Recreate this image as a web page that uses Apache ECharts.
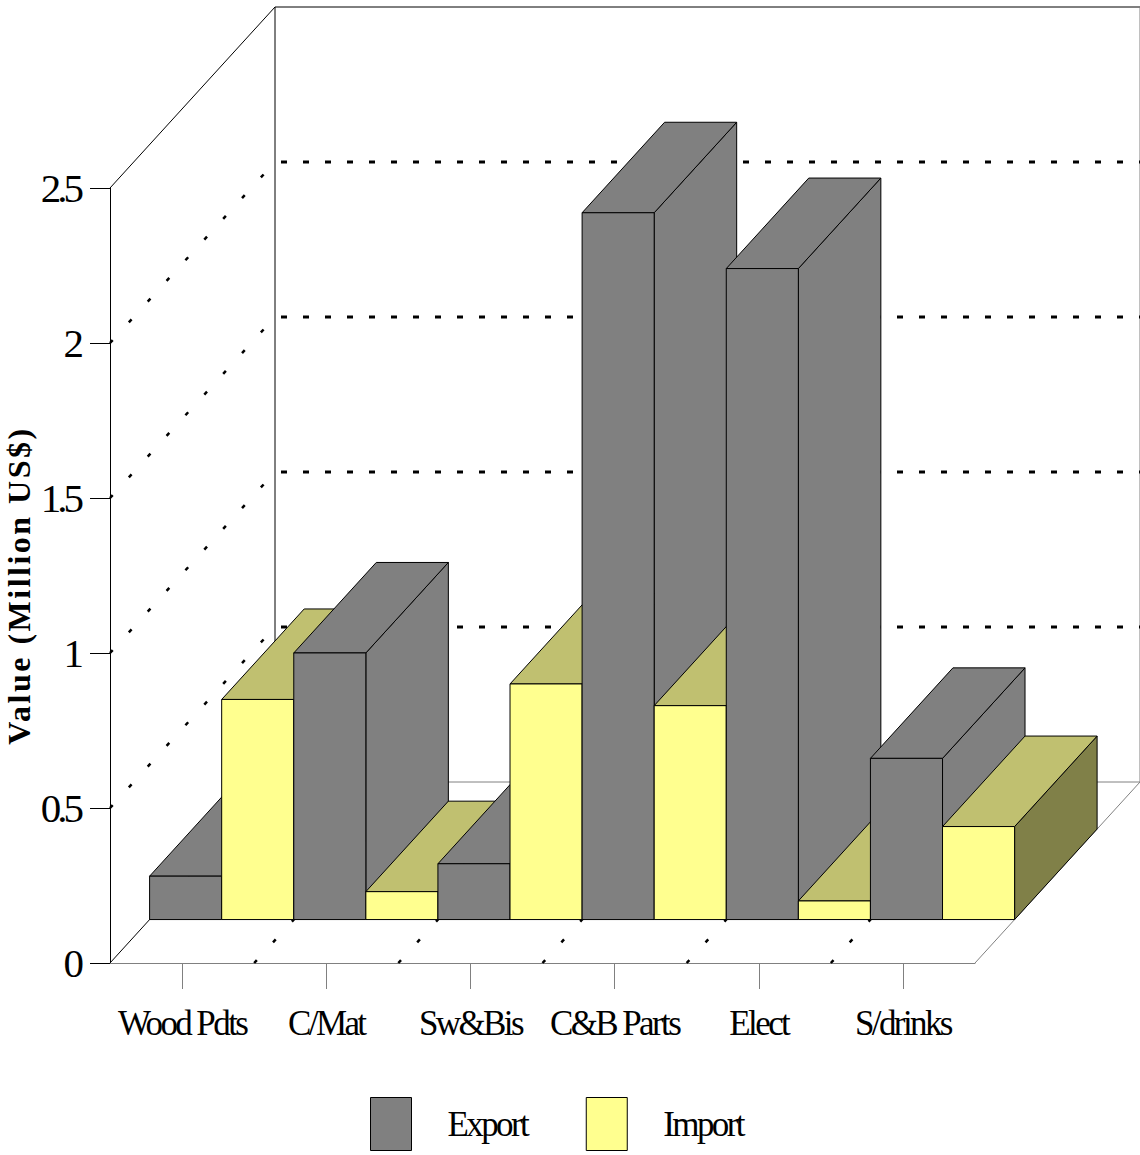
<!DOCTYPE html>
<html>
<head>
<meta charset="utf-8">
<title>Export and Import Value</title>
<script src="https://cdn.jsdelivr.net/npm/echarts@6/dist/echarts.min.js"></script>
<style>
  html, body { margin: 0; padding: 0; background: #fff; }
  #chart { width: 1140px; height: 1155px; }
  /* tight, typeset-looking serif labels */
  #chart text { letter-spacing: -2.6px; }
  #chart text[style*="41px"] { letter-spacing: -4px; }
  #chart text[style*="bold"] { letter-spacing: 2.5px; }
</style>
</head>
<body>
<div id="chart"></div>
<script>
// ---- data ----
const categories = ['Wood Pdts', 'C/Mat', 'Sw&Bis', 'C&B Parts', 'Elect', 'S/drinks'];
const exportValues = [0.14, 0.86, 0.18, 2.28, 2.10, 0.52];
const importValues = [0.71, 0.09, 0.76, 0.69, 0.06, 0.30];
const valueTicks = [0, 0.5, 1, 1.5, 2, 2.5];
const seriesNames = ['Export', 'Import'];

// ---- 3D look: oblique depth offset of the box, in pixels ----
const DEPTH_X = 165;
const DEPTH_Y = -181;
const BAR_FRONT = 0.24;   // bar front face, fraction of box depth
const BAR_BACK = 0.74;    // bar back face

const SERIF = '"Liberation Serif", "Times New Roman", serif';

const faceColors = [
  { front: '#808080', top: '#808080', side: '#808080' },
  { front: '#ffff8f', top: '#c0c070', side: '#808048' }
];

function shift(p, d) {
  return [p[0] + d * DEPTH_X, p[1] + d * DEPTH_Y];
}

function seg(p, q, color, dash, width) {
  return {
    type: 'line',
    shape: { x1: p[0], y1: p[1], x2: q[0], y2: q[1] },
    style: { stroke: color, lineWidth: width || 1, lineDash: dash || null, lineCap: 'butt' },
    silent: true
  };
}

// walls, floor and their dotted grid
function renderFrame(params, api) {
  const cs = params.coordSys;
  const x0 = cs.x;
  const x1 = cs.x + cs.width;
  const bw = api.size([1, 0])[0];
  const yBase = api.coord([0, valueTicks[0]])[1];
  const yTop = api.coord([0, valueTicks[valueTicks.length - 1]])[1];
  const kids = [];
  const hDash = [6, 16];
  const dDash = [4, 24];

  // floor
  kids.push(seg([x0, yBase], shift([x0, yBase], 1), '#000'));
  kids.push(seg([x1, yBase], shift([x1, yBase], 1), '#808080'));
  kids.push(seg(shift([x0, yBase], 1), shift([x1, yBase], 1), '#808080'));
  for (let k = 1; k < categories.length; k++) {
    const x = x0 + k * bw;
    kids.push(seg([x, yBase], shift([x, yBase], 1), '#000', dDash, 2.5));
  }

  // left wall
  kids.push(seg([x0, yTop], shift([x0, yTop], 1), '#000'));
  // back wall
  kids.push(seg(shift([x0, yBase], 1), shift([x0, yTop], 1), '#000'));
  kids.push(seg(shift([x0, yTop], 1), shift([x1, yTop], 1), '#000'));
  kids.push(seg(shift([x1, yBase], 1), shift([x1, yTop], 1), '#808080'));

  // dotted value levels on both walls
  for (let t = 1; t < valueTicks.length - 1; t++) {
    const y = api.coord([0, valueTicks[t]])[1];
    kids.push(seg([x0, y], shift([x0, y], 1), '#000', dDash, 2.5));
    const a = shift([x0, y], 1);
    kids.push(seg([a[0] + 6, a[1]], shift([x1, y], 1), '#000', hDash, 3));
  }
  return { type: 'group', children: kids };
}

// one column drawn as three faces; z2 keeps right-hand columns in front
function makeColumnRenderer(slot) {
  const colors = faceColors[slot];
  return function (params, api) {
    const i = api.value(0);
    const v = api.value(1);
    const base = api.coord([i, 0]);
    const top = api.coord([i, v]);
    const bw = api.size([1, 0])[0];
    const l = base[0] - bw / 2 + slot * bw / 2;
    const r = l + bw / 2;

    const ftl = shift([l, top[1]], BAR_FRONT);
    const ftr = shift([r, top[1]], BAR_FRONT);
    const fbr = shift([r, base[1]], BAR_FRONT);
    const fbl = shift([l, base[1]], BAR_FRONT);
    const btl = shift([l, top[1]], BAR_BACK);
    const btr = shift([r, top[1]], BAR_BACK);
    const bbr = shift([r, base[1]], BAR_BACK);

    const order = i * 10 + slot * 3;
    const face = (pts, fill, k) => ({
      type: 'polygon',
      shape: { points: pts },
      style: { fill: fill, stroke: '#000', lineWidth: 1, lineJoin: 'miter' },
      z2: order + k
    });
    return {
      type: 'group',
      children: [
        face([ftr, btr, bbr, fbr], colors.side, 0),
        face([ftl, ftr, btr, btl], colors.top, 1),
        face([fbl, ftl, ftr, fbr], colors.front, 2)
      ]
    };
  };
}

const chart = echarts.init(document.getElementById('chart'), null, { renderer: 'svg' });

chart.setOption({
  animation: false,
  backgroundColor: '#fff',
  grid: { left: 110, top: 188, right: 165, bottom: 192, containLabel: false, outerBoundsMode: 'none' },
  xAxis: {
    type: 'category',
    data: categories,
    boundaryGap: true,
    axisLine: { show: true, lineStyle: { color: '#808080', width: 1 } },
    axisTick: { show: true, alignWithLabel: true, length: 26, lineStyle: { color: '#808080' } },
    axisLabel: { margin: 43, fontFamily: SERIF, fontSize: 35, color: '#000', interval: 0 },
    splitLine: { show: false }
  },
  yAxis: {
    type: 'value',
    min: valueTicks[0],
    max: valueTicks[valueTicks.length - 1],
    interval: valueTicks[1] - valueTicks[0],
    name: 'Value (Million US$)',
    nameLocation: 'middle',
    nameRotate: 90,
    nameGap: 75,
    nameMoveOverlap: false,
    nameTextStyle: {
      fontFamily: SERIF, fontSize: 32, fontWeight: 'bold', color: '#000',
      padding: [0, 20, 0, 0]
    },
    axisLine: { show: true, lineStyle: { color: '#000', width: 1 } },
    axisTick: { show: true, length: 20, lineStyle: { color: '#000' } },
    axisLabel: { margin: 30, fontFamily: SERIF, fontSize: 41, color: '#000' },
    splitLine: { show: false }
  },
  legend: {
    left: 370,
    top: 1097,
    padding: 0,
    itemWidth: 41,
    itemHeight: 53,
    itemGap: 43,
    icon: 'rect',
    selectedMode: false,
    textStyle: { fontFamily: SERIF, fontSize: 35, color: '#000', padding: [0, 0, 0, 31] },
    data: [
      { name: seriesNames[0], itemStyle: { color: faceColors[0].front, borderColor: '#000', borderWidth: 1 } },
      { name: seriesNames[1], itemStyle: { color: faceColors[1].front, borderColor: '#000', borderWidth: 1 } }
    ]
  },
  series: [
    {
      type: 'custom',
      name: 'frame',
      silent: true,
      z: 1,
      renderItem: renderFrame,
      data: [[0, 0]]
    },
    {
      type: 'custom',
      name: seriesNames[0],
      silent: true,
      z: 2,
      itemStyle: { color: faceColors[0].front },
      emphasis: { disabled: true },
      renderItem: makeColumnRenderer(0),
      data: exportValues.map((v, i) => [i, v])
    },
    {
      type: 'custom',
      name: seriesNames[1],
      silent: true,
      z: 2,
      itemStyle: { color: faceColors[1].front },
      emphasis: { disabled: true },
      renderItem: makeColumnRenderer(1),
      data: importValues.map((v, i) => [i, v])
    }
  ]
});
</script>
</body>
</html>
